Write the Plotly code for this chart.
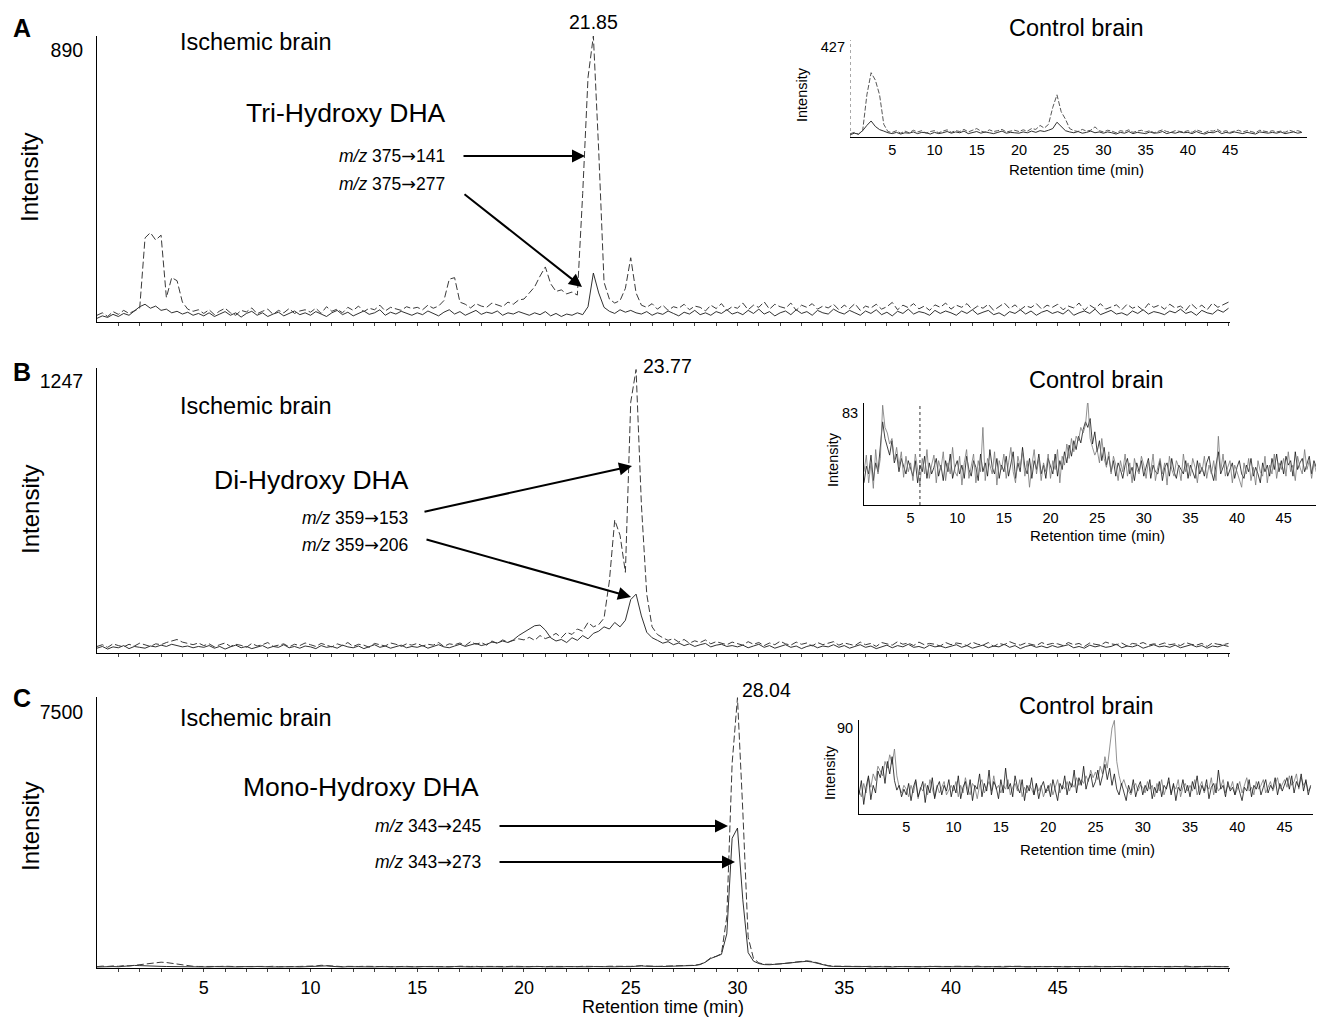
import plotly.graph_objects as go

# page body has an 8 px margin: figure is placed at (8, 8) in the window
OFF = 8
W, H = 1316, 1009
FONT = "Liberation Sans, Arial, Helvetica, sans-serif"

# ---------------- data ----------------
main_step = 0.25      # min between samples, main chromatograms
inset_a_step = 0.5    # min between samples, inset A
inset_bc_step = 0.25  # min between samples, insets B and C

# Panel A: Tri-Hydroxy DHA, ischemic brain
A_375_141 = ([22, 30, 18, 34, 25, 38, 28, 36, 45, 275, 292, 268, 284, 80, 145, 135, 65, 42, 35, 40]
             + [28, 40, 24, 36, 45, 30, 22, 38, 33, 46, 27, 35, 42, 25, 38, 30, 44, 28, 36, 40]
             + [32, 45, 28, 50, 35, 42, 30, 48, 38, 52, 34, 45, 40, 55, 36, 48, 42, 38, 50, 44]
             + [48, 40, 55, 45, 52, 70, 140, 145, 65, 58, 46, 60, 52, 48, 62, 55, 50, 65, 58, 72]
             + [75, 95, 115, 150, 180, 125, 100, 105, 92, 98, 88, 420, 800, 935, 560, 130, 75, 62, 70, 110]
             + [210, 95, 55, 48, 60, 42, 55, 38, 50, 45, 58, 40, 52, 48, 36, 55, 44, 60, 38, 50]
             + [45, 62, 40, 55, 48, 66, 42, 58, 50, 45, 62, 38, 55, 48, 60, 42, 52, 46, 58, 40]
             + [55, 44, 60, 38, 52, 46, 58, 42, 50, 64, 40, 55, 47, 60, 43, 52, 38, 56, 48, 62]
             + [42, 55, 48, 60, 40, 52, 45, 58, 38, 50, 62, 44, 56, 40, 53, 47, 60, 42, 55, 48]
             + [58, 40, 52, 46, 62, 38, 55, 44, 60, 42, 50, 56, 40, 58, 45, 52, 38, 60, 48, 55]
             + [42, 58, 46, 52, 38, 60, 44, 55, 40, 62, 48, 56, 65])
A_375_277 = ([12, 20, 15, 25, 18, 28, 22, 35, 50, 58, 45, 52, 38, 42, 30, 35, 26, 32, 22, 28]
             + [20, 30, 18, 26, 34, 22, 30, 16, 28, 35, 22, 30, 18, 26, 32, 20, 28, 36, 24, 30]
             + [22, 34, 26, 18, 30, 38, 24, 32, 20, 28, 36, 25, 30, 40, 22, 32, 26, 35, 28, 22]
             + [30, 24, 36, 28, 20, 32, 40, 26, 34, 22, 30, 38, 25, 32, 28, 36, 22, 30, 26, 34]
             + [28, 22, 30, 24, 34, 20, 28, 18, 26, 22, 30, 24, 50, 160, 95, 48, 35, 28, 40, 32]
             + [38, 30, 26, 34, 22, 30, 25, 36, 28, 20, 32, 26, 38, 24, 30, 22, 34, 28, 40, 26]
             + [32, 24, 38, 28, 42, 26, 34, 20, 30, 36, 24, 40, 28, 34, 22, 38, 30, 26, 42, 32]
             + [26, 38, 30, 22, 36, 28, 40, 24, 32, 20, 35, 28, 42, 26, 34, 30, 22, 38, 28, 36]
             + [30, 22, 36, 28, 40, 25, 32, 38, 24, 30, 20, 34, 28, 40, 26, 36, 22, 32, 38, 28]
             + [34, 26, 40, 22, 30, 36, 28, 42, 24, 32, 38, 26, 30, 22, 36, 28, 40, 26, 34, 30]
             + [24, 36, 30, 42, 28, 34, 22, 38, 30, 26, 40, 32, 45])

# Panel B: Di-Hydroxy DHA, ischemic brain
B_359_153 = ([30, 38, 26, 42, 34, 28, 40, 32, 45, 36, 30, 42, 38, 48, 55, 62, 50, 44, 38, 46]
             + [34, 42, 28, 38, 46, 30, 40, 35, 26, 44, 32, 38, 48, 30, 36, 42, 28, 40, 34, 46]
             + [38, 30, 44, 36, 28, 42, 34, 48, 30, 40, 36, 26, 44, 38, 32, 46, 40, 30, 42, 36]
             + [44, 32, 40, 36, 48, 30, 42, 38, 46, 34, 52, 40, 48, 36, 55, 44, 60, 50, 58, 65]
             + [60, 72, 58, 80, 66, 75, 90, 70, 95, 85, 110, 100, 140, 120, 130, 160, 330, 610, 540, 370]
             + [1150, 1300, 680, 270, 120, 85, 70, 58, 66, 50, 62, 45, 56, 48, 60, 42, 52, 46, 38, 50]
             + [44, 36, 52, 40, 48, 34, 46, 38, 54, 42, 36, 50, 40, 46, 32, 48, 38, 44, 52, 36]
             + [46, 40, 34, 50, 38, 44, 30, 48, 42, 36, 52, 40, 46, 34, 50, 38, 44, 40, 32, 48]
             + [38, 46, 42, 34, 50, 40, 36, 48, 30, 44, 38, 52, 42, 36, 46, 40, 34, 48, 38, 44]
             + [42, 34, 48, 38, 44, 30, 46, 40, 36, 50, 42, 38, 46, 32, 44, 40, 48, 36, 42, 38]
             + [46, 38, 42, 34, 48, 40, 36, 44, 30, 46, 40, 38, 44])
B_359_206 = ([22, 30, 18, 28, 24, 34, 20, 30, 26, 22, 32, 28, 36, 30, 40, 34, 28, 32, 24, 30]
             + [26, 34, 22, 30, 18, 28, 36, 24, 30, 20, 28, 34, 22, 30, 26, 38, 24, 30, 22, 32]
             + [28, 20, 34, 26, 30, 22, 36, 28, 24, 32, 20, 30, 38, 26, 32, 22, 28, 36, 24, 30]
             + [26, 34, 22, 30, 38, 28, 24, 32, 40, 30, 36, 44, 34, 40, 50, 46, 55, 48, 60, 80]
             + [95, 110, 125, 128, 105, 70, 55, 62, 48, 70, 58, 80, 65, 90, 100, 120, 110, 140, 120, 150]
             + [245, 270, 170, 95, 70, 58, 45, 52, 38, 46, 34, 42, 30, 38, 44, 28, 36, 40, 30, 34]
             + [28, 36, 24, 32, 40, 26, 34, 22, 30, 38, 26, 32, 20, 30, 36, 24, 32, 28, 38, 26]
             + [34, 22, 30, 38, 26, 32, 20, 28, 36, 24, 34, 28, 40, 26, 30, 22, 36, 28, 32, 24]
             + [30, 38, 26, 34, 22, 30, 36, 24, 32, 28, 40, 26, 34, 20, 30, 36, 26, 32, 24, 34]
             + [26, 32, 38, 24, 30, 22, 36, 28, 34, 26, 30, 40, 24, 32, 28, 36, 22, 30, 38, 28]
             + [32, 26, 36, 24, 30, 38, 28, 34, 22, 32, 28, 36, 30])

# Panel C: Mono-Hydroxy DHA, ischemic brain
C_343_245 = ([40, 55, 45, 60, 50, 70, 60, 80, 90, 110, 130, 150, 170, 160, 140, 100, 80, 60, 50, 45]
             + [40, 50, 38, 45, 52, 40, 48, 36, 44, 50, 38, 46, 42, 50, 36, 44, 48, 40, 46, 52]
             + [50, 60, 80, 70, 55, 45, 40, 48, 36, 44, 50, 38, 46, 42, 50, 36, 44, 40, 48, 38]
             + [44, 50, 38, 46, 42, 36, 48, 40, 52, 38, 44, 50, 36, 46, 42, 48, 38, 44, 52, 40]
             + [46, 38, 50, 42, 36, 48, 44, 52, 38, 46, 40, 50, 44, 38, 48, 42, 52, 46, 40, 50]
             + [48, 56, 70, 60, 50, 46, 54, 60, 66, 72, 70, 76, 80, 110, 180, 300, 340, 420, 1500, 6000]
             + [7920, 4600, 900, 280, 150, 110, 100, 110, 120, 140, 160, 180, 200, 210, 190, 150, 100, 70, 55, 50]
             + [46, 40, 52, 38, 44, 50, 36, 48, 42, 54, 40, 46, 38, 50, 44, 36, 48, 42, 52, 40]
             + [44, 50, 38, 46, 42, 54, 36, 48, 40, 46, 52, 38, 44, 50, 36, 48, 42, 46, 40, 52]
             + [38, 46, 50, 42, 36, 48, 44, 52, 40, 46, 38, 50, 42, 48, 36, 44, 52, 40, 46, 42]
             + [50, 38, 46, 42, 54, 40, 48, 36, 44, 50, 42, 46, 40])
C_343_273 = ([30, 38, 34, 42, 36, 50, 60, 75, 70, 60, 55, 50, 48, 44, 40, 36, 42, 34, 38, 32]
             + [36, 30, 40, 34, 28, 38, 32, 40, 30, 36, 42, 32, 38, 30, 34, 40, 28, 36, 32, 38]
             + [40, 55, 70, 62, 48, 36, 30, 38, 34, 40, 28, 36, 32, 38, 30, 42, 34, 36, 30, 38]
             + [32, 40, 34, 28, 38, 36, 30, 42, 34, 38, 30, 36, 40, 32, 38, 34, 30, 40, 36, 32]
             + [38, 30, 36, 42, 34, 30, 38, 32, 40, 36, 30, 38, 34, 42, 36, 30, 38, 34, 40, 36]
             + [40, 52, 62, 50, 42, 38, 44, 48, 52, 58, 60, 68, 75, 100, 170, 280, 330, 400, 1000, 3800]
             + [4100, 2000, 450, 200, 130, 100, 95, 105, 115, 130, 150, 170, 185, 195, 175, 135, 90, 60, 45, 40]
             + [36, 42, 32, 38, 44, 30, 40, 34, 38, 30, 42, 36, 32, 40, 34, 38, 30, 42, 36, 34]
             + [40, 32, 38, 34, 42, 30, 36, 40, 34, 38, 30, 42, 36, 32, 40, 34, 38, 30, 36, 42]
             + [34, 38, 30, 42, 36, 32, 40, 34, 38, 30, 36, 42, 32, 38, 34, 40, 30, 36, 42, 34]
             + [38, 32, 40, 34, 36, 42, 30, 38, 34, 40, 32, 36, 38])

# Insets: control brain
Actl_141 = ([15, 22, 12, 30, 200, 305, 270, 200, 60, 25, 22, 30, 18, 28, 20, 32, 24, 30, 18, 26]
            + [30, 20, 28, 34, 22, 30, 26, 36, 24, 32, 40, 28, 22, 34, 26, 30, 36, 24, 28, 32]
            + [26, 34, 28, 40, 36, 55, 42, 60, 140, 200, 120, 85, 40, 30, 26, 36, 28, 32, 48, 30]
            + [24, 32, 28, 20, 30, 26, 34, 22, 28, 32, 24, 30, 20, 28, 34, 26, 22, 30, 28, 24]
            + [30, 22, 34, 26, 20, 30, 28, 36, 24, 30, 22, 28, 32, 24, 30, 26, 20, 32, 28, 24]
            + [30, 24, 28, 22, 32, 26, 30, 24])
Actl_277 = ([10, 18, 14, 30, 55, 76, 50, 35, 28, 20, 16, 22, 14, 20, 18, 24, 16, 22, 20, 14]
            + [22, 16, 20, 26, 18, 24, 20, 28, 16, 22, 26, 18, 24, 20, 16, 22, 28, 18, 22, 20]
            + [18, 24, 20, 28, 22, 30, 26, 32, 40, 70, 48, 30, 24, 20, 26, 18, 22, 28, 20, 24]
            + [18, 24, 20, 14, 22, 18, 26, 16, 22, 20, 16, 24, 18, 20, 26, 16, 22, 18, 24, 20]
            + [22, 16, 26, 18, 14, 22, 20, 28, 16, 22, 18, 24, 20, 16, 22, 18, 14, 24, 20, 18]
            + [22, 18, 24, 16, 20, 24, 18, 22])

Bctl_153 = ([30, 45, 20, 38, 15, 50, 28, 42, 90, 70, 65, 55, 60, 40, 52, 35, 48, 25, 44, 30]
            + [38, 22, 46, 30, 18, 42, 28, 50, 24, 36, 45, 20, 40, 32, 48, 22, 38, 28, 52, 30]
            + [26, 44, 18, 38, 50, 24, 34, 46, 20, 40, 30, 70, 22, 42, 36, 28, 48, 18, 40, 32]
            + [46, 24, 38, 52, 30, 20, 44, 34, 48, 26, 40, 16, 36, 50, 28, 42, 22, 38, 30, 46]
            + [24, 40, 32, 50, 20, 44, 36, 55, 42, 60, 48, 62, 58, 70, 65, 72, 95, 60, 52, 45]
            + [50, 38, 60, 42, 34, 48, 28, 44, 36, 22, 40, 30, 46, 26, 38, 20, 42, 32, 28, 44]
            + [36, 24, 40, 30, 46, 22, 34, 42, 28, 38, 18, 44, 32, 26, 40, 34, 22, 46, 30, 38]
            + [26, 42, 34, 20, 38, 30, 44, 24, 36, 28, 40, 22, 62, 30, 46, 26, 34, 40, 20, 36]
            + [30, 24, 16, 38, 28, 42, 22, 34, 18, 40, 30, 26, 44, 20, 36, 28, 46, 24, 38, 32]
            + [42, 26, 48, 30, 36, 22, 44, 34, 28, 50, 32, 40, 24, 38, 30, 46])
Bctl_206 = ([20, 35, 28, 45, 22, 38, 30, 55, 75, 60, 52, 45, 58, 38, 46, 30, 42, 34, 28, 40]
            + [32, 26, 40, 20, 36, 30, 44, 24, 38, 28, 34, 42, 26, 36, 22, 40, 30, 46, 24, 34]
            + [40, 28, 36, 24, 44, 32, 26, 40, 34, 22, 46, 30, 38, 26, 50, 34, 28, 42, 24, 36]
            + [30, 44, 26, 36, 48, 24, 38, 30, 52, 34, 28, 42, 24, 40, 32, 46, 28, 36, 24, 42]
            + [34, 28, 46, 26, 40, 32, 48, 38, 54, 44, 58, 50, 62, 56, 68, 75, 70, 78, 55, 66]
            + [48, 58, 40, 52, 36, 44, 30, 40, 26, 38, 32, 24, 36, 42, 28, 34, 22, 38, 30, 40]
            + [26, 34, 42, 24, 36, 30, 28, 40, 22, 34, 38, 26, 42, 30, 24, 36, 32, 28, 40, 24]
            + [36, 30, 24, 40, 28, 34, 26, 38, 44, 30, 22, 36, 48, 28, 34, 40, 26, 32, 38, 24]
            + [34, 40, 28, 24, 36, 30, 42, 26, 34, 28, 20, 38, 30, 36, 26, 42, 32, 46, 30, 40]
            + [28, 44, 36, 40, 26, 48, 32, 38, 42, 30, 36, 44, 28, 40, 34, 36])

Cctl_245 = ([20, 35, 10, 28, 40, 15, 30, 22, 45, 38, 50, 32, 55, 42, 60, 35, 25, 30, 18, 26]
            + [20, 32, 14, 28, 36, 18, 26, 34, 12, 30, 22, 38, 16, 28, 34, 20, 30, 24, 36, 18]
            + [30, 22, 40, 16, 28, 34, 20, 36, 14, 30, 26, 42, 18, 32, 24, 46, 20, 34, 28, 16]
            + [36, 22, 48, 26, 32, 18, 40, 28, 22, 36, 14, 30, 24, 38, 20, 32, 16, 28, 34, 22]
            + [30, 18, 36, 24, 14, 32, 26, 40, 20, 34, 28, 46, 22, 38, 30, 50, 26, 36, 42, 28]
            + [34, 46, 30, 40, 52, 36, 48, 30, 42, 26, 20, 32, 24, 14, 30, 22, 36, 18, 28, 34]
            + [20, 30, 24, 36, 16, 28, 22, 34, 18, 30, 26, 38, 20, 32, 14, 28, 24, 36, 22, 30]
            + [18, 34, 26, 40, 20, 30, 24, 36, 16, 28, 32, 22, 46, 26, 30, 18, 34, 24, 28, 20]
            + [32, 22, 14, 28, 24, 36, 18, 30, 26, 34, 20, 28, 36, 22, 30, 26, 38, 20, 32, 24]
            + [30, 38, 26, 40, 22, 34, 28, 42, 24, 36, 20, 30])
Cctl_273 = ([25, 18, 32, 22, 38, 28, 42, 35, 50, 45, 40, 55, 48, 62, 52, 68, 40, 28, 22, 30]
            + [26, 18, 30, 22, 34, 16, 28, 24, 32, 20, 36, 26, 18, 30, 22, 28, 34, 20, 26, 30]
            + [24, 34, 18, 30, 22, 38, 26, 20, 32, 28, 16, 30, 36, 22, 28, 34, 24, 40, 26, 30]
            + [22, 30, 26, 36, 20, 28, 32, 24, 36, 18, 28, 22, 30, 26, 20, 32, 24, 30, 18, 26]
            + [24, 32, 20, 28, 36, 22, 30, 26, 34, 24, 32, 28, 38, 30, 36, 32, 40, 34, 46, 38]
            + [44, 36, 50, 42, 60, 48, 70, 90, 98, 55, 40, 30, 36, 28, 24, 20, 28, 32, 24, 30]
            + [28, 22, 34, 26, 30, 18, 32, 24, 36, 20, 28, 34, 22, 30, 26, 36, 18, 28, 32, 24]
            + [30, 24, 36, 20, 28, 34, 22, 30, 26, 38, 20, 32, 24, 28, 36, 22, 30, 26, 34, 20]
            + [26, 34, 22, 30, 38, 24, 28, 20, 34, 26, 30, 36, 22, 28, 34, 24, 30, 38, 26, 32]
            + [36, 28, 40, 30, 34, 42, 26, 38, 30, 34, 24, 28])

x_tick_labels = [5, 10, 15, 20, 25, 30, 35, 40, 45]
top_labels = {"A": 890, "B": 1247, "C": 7500}
inset_top = {"A": 427, "B": 83, "C": 90}


def times(series, step):
    return [i * step for i in range(len(series))]


# ---------------- figure ----------------
fig = go.Figure()

DASH = dict(color="#3a3a3a", width=1, dash="7px,3px")
SOLID = dict(color="#1a1a1a", width=0.9)
IN_DARK = dict(color="#111111", width=0.8)
IN_GRAY = dict(color="#777777", width=0.8)

panels = [
    ("x", "y", A_375_141, A_375_277, main_step, DASH, SOLID),
    ("x2", "y2", Actl_141, Actl_277, inset_a_step, dict(color="#444", width=0.9, dash="5px,2px"), SOLID),
    ("x3", "y3", B_359_153, B_359_206, main_step, DASH, SOLID),
    ("x4", "y4", Bctl_153, Bctl_206, inset_bc_step, IN_GRAY, IN_DARK),
    ("x5", "y5", C_343_245, C_343_273, main_step, DASH, SOLID),
    ("x6", "y6", Cctl_245, Cctl_273, inset_bc_step, IN_DARK, IN_GRAY),
]
for xa, ya, s1, s2, step, l1, l2 in panels:
    fig.add_trace(go.Scatter(x=times(s2, step), y=s2, xaxis=xa, yaxis=ya, mode="lines",
                             line=l2, hoverinfo="skip"))
    fig.add_trace(go.Scatter(x=times(s1, step), y=s1, xaxis=xa, yaxis=ya, mode="lines",
                             line=l1, hoverinfo="skip"))


def xd(a, b):
    return [(a - OFF) / W, (b - OFF) / W]


def yd(top, bottom):
    return [1 - (bottom - OFF) / H, 1 - (top - OFF) / H]


minor_vals = list(range(1, 54))
minor_text = [str(v) if v in x_tick_labels else "" for v in minor_vals]

common_x = dict(showgrid=False, zeroline=False, showline=True, linecolor="black", linewidth=1)
common_y = dict(showgrid=False, zeroline=False, showline=True, linecolor="black", linewidth=1,
                ticks="", tickfont=dict(size=19.5, family=FONT, color="black"))
INSET_TICK = dict(size=14.5, family=FONT, color="black")

layout = dict(
    width=W, height=H, margin=dict(l=0, r=0, t=0, b=0),
    paper_bgcolor="white", plot_bgcolor="white", showlegend=False,
    font=dict(family=FONT, color="black"),
    # Panel A
    xaxis=dict(domain=xd(97, 1230), range=[0, 53.07], anchor="y", ticks="outside", ticklen=3,
               tickvals=minor_vals, showticklabels=False, **common_x),
    yaxis=dict(domain=yd(36, 322), range=[0, 935], anchor="x", tickvals=[top_labels["A"]],
               ticktext=[str(top_labels["A"])], ticklabelstandoff=9, **common_y),
    # Inset A
    xaxis2=dict(domain=xd(850, 1307), range=[0, 54.1], anchor="y2", tickvals=x_tick_labels, ticks="",
                tickfont=INSET_TICK, **common_x),
    yaxis2=dict(domain=yd(40, 137), range=[0, 460], anchor="x2", showgrid=False, zeroline=False,
                showline=False, ticks="", tickvals=[inset_top["A"]], ticktext=[str(inset_top["A"])],
                tickfont=INSET_TICK, ticklabelstandoff=4),
    # Panel B
    xaxis3=dict(domain=xd(97, 1230), range=[0, 53.07], anchor="y3", ticks="outside", ticklen=3,
                tickvals=minor_vals, showticklabels=False, **common_x),
    yaxis3=dict(domain=yd(368, 653), range=[0, 1307], anchor="x3", tickvals=[top_labels["B"]],
                ticktext=[str(top_labels["B"])], ticklabelstandoff=9, **common_y),
    # Inset B
    xaxis4=dict(domain=xd(864, 1320), range=[0, 48.9], anchor="y4", tickvals=x_tick_labels, ticks="",
                tickfont=INSET_TICK, **common_x),
    yaxis4=dict(domain=yd(403, 505), range=[0, 92], anchor="x4", showgrid=False, zeroline=False,
                showline=True, linecolor="black", linewidth=1, ticks="", tickvals=[inset_top["B"]],
                ticktext=[str(inset_top["B"])], tickfont=INSET_TICK, ticklabelstandoff=2),
    # Panel C
    xaxis5=dict(domain=xd(97, 1230), range=[0, 53.07], anchor="y5", ticks="outside", ticklen=3,
                tickvals=minor_vals, ticktext=minor_text, tickfont=dict(size=18, family=FONT), **common_x),
    yaxis5=dict(domain=yd(697, 968), range=[0, 7940], anchor="x5", tickvals=[top_labels["C"]],
                ticktext=[str(top_labels["C"])], ticklabelstandoff=9, **common_y),
    # Inset C
    xaxis6=dict(domain=xd(859, 1313), range=[0, 48.0], anchor="y6", tickvals=x_tick_labels, ticks="",
                tickfont=INSET_TICK, **common_x),
    yaxis6=dict(domain=yd(720, 814), range=[0, 98.4], anchor="x6", showgrid=False, zeroline=False,
                showline=True, linecolor="black", linewidth=1, ticks="", tickvals=[inset_top["C"]],
                ticktext=[str(inset_top["C"])], tickfont=INSET_TICK, ticklabelstandoff=2),
)
fig.update_layout(**layout)

# dotted lines in insets
fig.add_shape(type="line", xref="x2", yref="y2", x0=0, x1=0, y0=0, y1=460,
              line=dict(color="#555", width=1, dash="dot"))
fig.add_shape(type="line", xref="x4", yref="y4", x0=6, x1=6, y0=0, y1=92,
              line=dict(color="#333", width=1, dash="dot"))


def P(x, y):
    return (x - OFF) / W, 1 - (y - OFF) / H


def text(x, y, s, size, anchor="center", bold=False, angle=0):
    px, py = P(x, y)
    fig.add_annotation(x=px, y=py, xref="paper", yref="paper", text=("<b>%s</b>" % s) if bold else s,
                       showarrow=False, xanchor=anchor, yanchor="middle", textangle=angle,
                       font=dict(size=size, family=FONT, color="black"))


def arrow(x0, y0, x1, y1):
    px, py = P(x1, y1)
    fig.add_annotation(x=px, y=py, xref="paper", yref="paper", text="", showarrow=True,
                       ax=x0 - x1, ay=y0 - y1, axref="pixel", ayref="pixel",
                       arrowhead=2, arrowsize=1.3, arrowwidth=2, arrowcolor="black")


ARW = '<span style="font-family:DejaVu Sans">\u2192</span>'

# Panel letters
text(22, 28, "A", 25, bold=True)
text(22, 372, "B", 25, bold=True)
text(22, 698, "C", 25, bold=True)

# Ischemic labels
for yy in (42, 406, 718):
    text(178, yy, "Ischemic brain", 23.5, anchor="left")

# main y titles
for yy in (178, 510, 827):
    text(30, yy, "Intensity", 24, angle=-90)

# peak labels
text(593, 22, "21.85", 19.5)
text(667, 366, "23.77", 19.5)
text(766, 690, "28.04", 19.5)

# compound names
text(346, 113, "Tri-Hydroxy DHA", 26.5)
text(311, 480, "Di-Hydroxy DHA", 26.5)
text(361, 787, "Mono-Hydroxy DHA", 26.5)

# transitions
text(447, 156, "<i>m/z</i> 375" + ARW + "141", 17.5, anchor="right")
text(447, 184, "<i>m/z</i> 375" + ARW + "277", 17.5, anchor="right")
text(410, 518, "<i>m/z</i> 359" + ARW + "153", 17.5, anchor="right")
text(410, 545, "<i>m/z</i> 359" + ARW + "206", 17.5, anchor="right")
text(483, 826, "<i>m/z</i> 343" + ARW + "245", 17.5, anchor="right")
text(483, 862, "<i>m/z</i> 343" + ARW + "273", 17.5, anchor="right")

arrow(462, 156, 585, 156)
arrow(463, 193, 582, 287)
arrow(423, 512, 632, 466)
arrow(425, 539, 631, 597)
arrow(498, 826, 728, 826)
arrow(498, 862, 735, 862)

# insets text
text(1076, 28, "Control brain", 23.5)
text(1096, 380, "Control brain", 23.5)
text(1086, 706, "Control brain", 23.5)
text(802, 95, "Intensity", 14.5, angle=-90)
text(833, 460, "Intensity", 14.5, angle=-90)
text(830, 773, "Intensity", 14.5, angle=-90)
text(1076, 169, "Retention time (min)", 15)
text(1097, 535, "Retention time (min)", 15)
text(1087, 849, "Retention time (min)", 15)

# main x title
text(663, 1007, "Retention time (min)", 18)

fig.write_html("out.html")
